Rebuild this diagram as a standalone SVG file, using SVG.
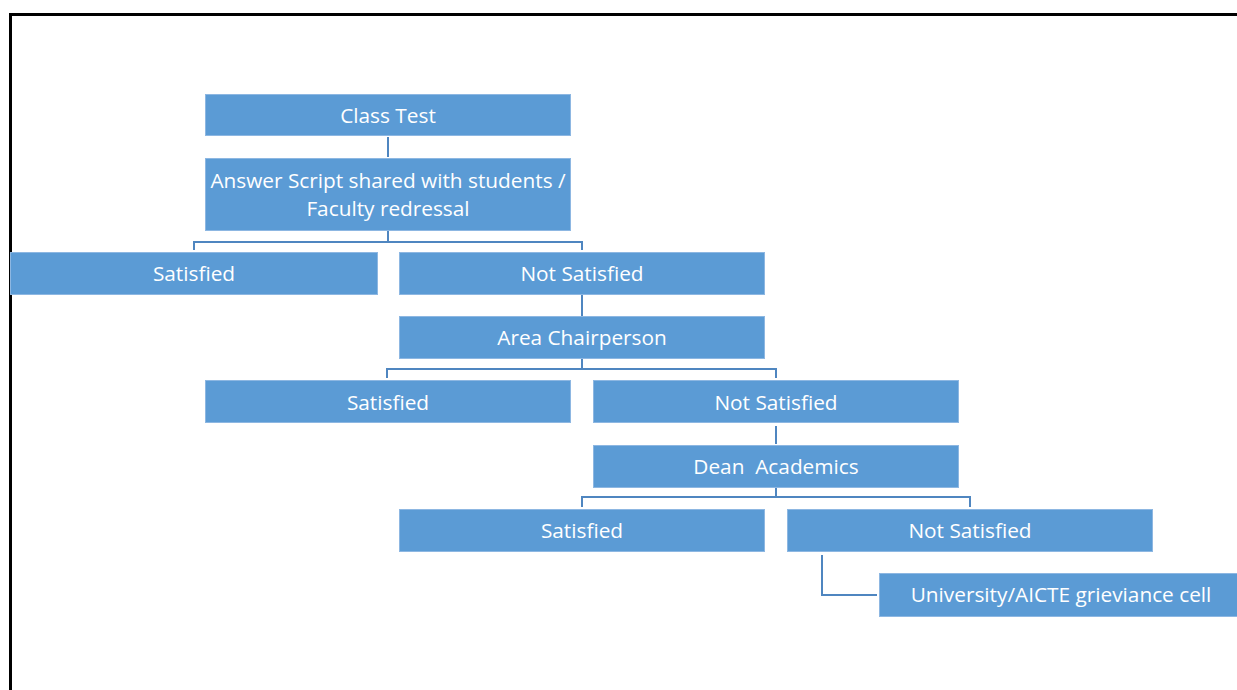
<svg xmlns="http://www.w3.org/2000/svg" width="1237" height="690" viewBox="0 0 1237 690">
<style>
.box{fill:#5B9BD5;stroke:#8DB7E2;stroke-width:1}
.t{fill:#FFFFFF;font-family:"Open Sans","Liberation Sans",sans-serif;font-size:20.8px;text-anchor:middle}
.c{fill:none;stroke:#4F86C0;stroke-width:2}
</style>
<rect width="1237" height="690" fill="#FFFFFF"/>
<path d="M10.5,690 V14.5 H1237" fill="none" stroke="#000" stroke-width="3"/>
<g id="connectors">
<path class="c" d="M388,137 V157"/>
<path class="c" d="M388,231 V242 M194,250 V242 H582 V250"/>
<path class="c" d="M582,295 V316"/>
<path class="c" d="M582,359 V369 M387,378 V369 H776 V378"/>
<path class="c" d="M776,426 V444"/>
<path class="c" d="M776,487 V497 M582,507 V497 H970 V507"/>
<path class="c" d="M822,555 V595 H877"/>
</g>
<g id="class-test"><rect class="box" x="205.5" y="94.5" width="365" height="41"/><text class="t" x="388" y="122.5">Class Test</text></g>
<g id="answer-script"><rect class="box" x="205.5" y="158.5" width="365" height="72"/><text class="t" x="388" y="188">Answer Script shared with students /</text><text class="t" x="388" y="216">Faculty redressal</text></g>
<g id="satisfied-1"><rect class="box" x="10.5" y="252.5" width="367" height="42"/><text class="t" x="194" y="280.5">Satisfied</text></g>
<g id="not-satisfied-1"><rect class="box" x="399.5" y="252.5" width="365" height="42"/><text class="t" x="582" y="280.5">Not Satisfied</text></g>
<g id="area-chairperson"><rect class="box" x="399.5" y="316.5" width="365" height="42"/><text class="t" x="582" y="344.5">Area Chairperson</text></g>
<g id="satisfied-2"><rect class="box" x="205.5" y="380.5" width="365" height="42"/><text class="t" x="388" y="409.5">Satisfied</text></g>
<g id="not-satisfied-2"><rect class="box" x="593.5" y="380.5" width="365" height="42"/><text class="t" x="776" y="409.5">Not Satisfied</text></g>
<g id="dean-academics"><rect class="box" x="593.5" y="445.5" width="365" height="42"/><text class="t" x="776" y="473.5" xml:space="preserve">Dean  Academics</text></g>
<g id="satisfied-3"><rect class="box" x="399.5" y="509.5" width="365" height="42"/><text class="t" x="582" y="537.5">Satisfied</text></g>
<g id="not-satisfied-3"><rect class="box" x="787.5" y="509.5" width="365" height="42"/><text class="t" x="970" y="537.5">Not Satisfied</text></g>
<g id="university-cell"><rect class="box" x="879.5" y="573.5" width="365" height="43"/><text class="t" x="1061" y="601.5">University/AICTE grieviance cell</text></g>
</svg>
